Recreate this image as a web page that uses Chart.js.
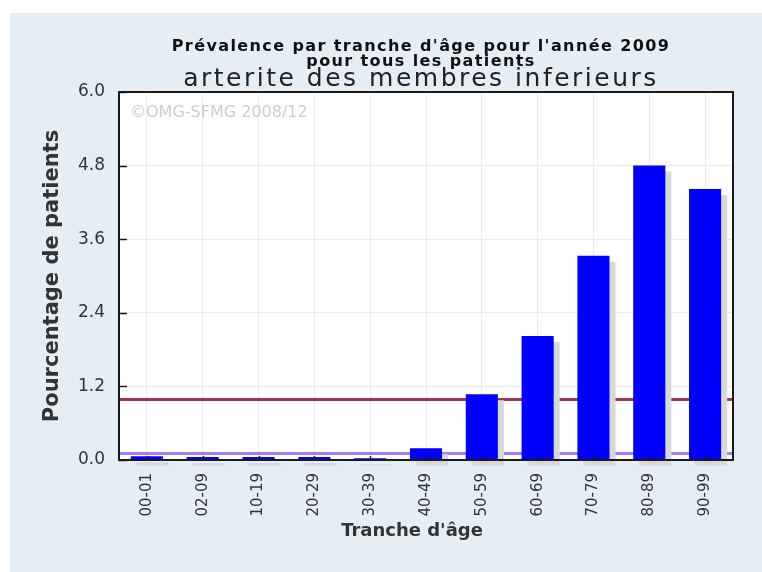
<!DOCTYPE html>
<html>
<head>
<meta charset="utf-8">
<script src="https://cdn.jsdelivr.net/npm/chart.js@4.4.0/dist/chart.umd.min.js"></script>
<style>
  html, body { margin: 0; padding: 0; background: #fff; }
  #wrap { position: absolute; left: 10px; top: 13px; width: 752px; height: 559px; background: #e5edf5; }
  canvas { display: block; }
</style>
</head>
<body>
<div id="wrap"><canvas id="chart" width="752" height="559"></canvas></div>
<script>
// data
const ageBands = ['00-01', '02-09', '10-19', '20-29', '30-39', '40-49', '50-59', '60-69', '70-79', '80-89', '90-99'];
const prevalence = [0.06, 0.05, 0.05, 0.05, 0.03, 0.19, 1.07, 2.02, 3.33, 4.80, 4.42];
const refValues = [1.0, 0.12];
const yTickValues = [0, 1.2, 2.4, 3.6, 4.8, 6.0];

const titleLines = ["Prévalence par tranche d'âge pour l'année 2009", 'pour tous les patients'];
const subTitle = 'arterite des membres inferieurs';
const xTitle = "Tranche d'âge";
const watermark = '©OMG-SFMG 2008/12';

const refColors = ['#9c3366', '#a07cf8'];
const textColor = '#333';
const font = '"DejaVu Sans", Verdana, sans-serif';

const decor = {
  id: 'decor',
  beforeDraw(chart) {
    const { ctx, chartArea: a } = chart;
    ctx.save();
    ctx.fillStyle = '#fff';
    ctx.fillRect(a.left, a.top, a.right - a.left, a.bottom - a.top);
    ctx.restore();
  },
  beforeDatasetsDraw(chart) {
    const { ctx, chartArea: a, scales: { y } } = chart;
    ctx.save();
    ctx.fillStyle = '#cdcdcd';
    ctx.font = '16px ' + font;
    ctx.textBaseline = 'middle';
    ctx.fillText(watermark, a.left + 11, a.top + 21);
    ctx.lineWidth = 3;
    refValues.forEach((v, i) => {
      const py = Math.round(y.getPixelForValue(v)) + 0.5;
      ctx.strokeStyle = refColors[i];
      ctx.beginPath();
      ctx.moveTo(a.left, py);
      ctx.lineTo(a.right, py);
      ctx.stroke();
    });
    ctx.restore();
    // flat drop shadow behind the bars
    ctx.save();
    ctx.shadowColor = '#d8d8d8';
    ctx.shadowOffsetX = 6;
    ctx.shadowOffsetY = 6;
    ctx.shadowBlur = 0;
  },
  afterDatasetsDraw(chart) {
    const { ctx, chartArea: a, scales: { x, y } } = chart;
    ctx.restore();
    ctx.save();
    ctx.strokeStyle = '#1a1a1a';
    ctx.lineWidth = 2;
    ctx.strokeRect(a.left, a.top, a.right - a.left, a.bottom - a.top);
    ctx.lineWidth = 1.5;
    y.ticks.forEach((t, i) => {
      const py = Math.round(y.getPixelForTick(i)) + 0.5;
      ctx.beginPath(); ctx.moveTo(a.left, py); ctx.lineTo(a.left + 8, py); ctx.stroke();
    });
    x.ticks.forEach((t, i) => {
      const px = Math.round(x.getPixelForTick(i)) + 0.5;
      ctx.beginPath(); ctx.moveTo(px, a.bottom); ctx.lineTo(px, a.bottom - 4); ctx.stroke();
    });
    ctx.restore();
  },
  afterDraw(chart) {
    const { ctx } = chart;
    const cx = 411;
    ctx.save();
    ctx.fillStyle = '#111';
    ctx.textAlign = 'center';
    ctx.textBaseline = 'alphabetic';
    ctx.letterSpacing = '1.4px';
    ctx.font = 'bold 16px ' + font;
    ctx.fillText(titleLines[0], cx, 38);
    ctx.fillText(titleLines[1], cx, 53);
    ctx.fillStyle = '#222';
    ctx.letterSpacing = '2.5px';
    ctx.font = '25px ' + font;
    ctx.fillText(subTitle, cx, 73);
    ctx.letterSpacing = '0px';
    ctx.fillStyle = textColor;
    ctx.font = 'bold 18px ' + font;
    ctx.textBaseline = 'middle';
    ctx.fillText(xTitle, 402, 518);
    ctx.restore();
  }
};

new Chart(document.getElementById('chart'), {
  type: 'bar',
  data: {
    labels: ageBands,
    datasets: [{
      data: prevalence,
      backgroundColor: '#0000ff',
      borderWidth: 0,
      categoryPercentage: 1,
      barPercentage: 0.575,
      clip: { left: 0, top: 0, right: 8, bottom: 7 }
    }]
  },
  options: {
    responsive: false,
    animation: false,
    events: [],
    layout: { padding: { top: 79, right: 29, bottom: 0, left: 0 } },
    plugins: { legend: { display: false }, title: { display: false }, tooltip: { enabled: false } },
    scales: {
      x: {
        grid: { color: '#ebebeb', offset: false, drawTicks: false },
        border: { display: false },
        ticks: {
          autoSkip: false, minRotation: 90, maxRotation: 90, padding: 13,
          color: textColor, font: { family: font, size: 15 }
        },
        title: { display: false },
        afterFit(s) { s.height = 112; }
      },
      y: {
        min: 0, max: 6,
        afterBuildTicks(s) { s.ticks = yTickValues.map(v => ({ value: v })); },
        grid: { color: '#ebebeb', drawTicks: false },
        border: { display: false },
        ticks: {
          padding: 14, color: textColor, font: { family: font, size: 17 },
          callback: v => Number(v).toFixed(1)
        },
        title: {
          display: true, text: 'Pourcentage de patients', color: textColor,
          font: { family: font, size: 21, weight: 'bold' }, padding: { top: 30, bottom: 0 }
        },
        afterFit(s) { s.width = 109; }
      }
    }
  },
  plugins: [decor]
});
</script>
</body>
</html>
